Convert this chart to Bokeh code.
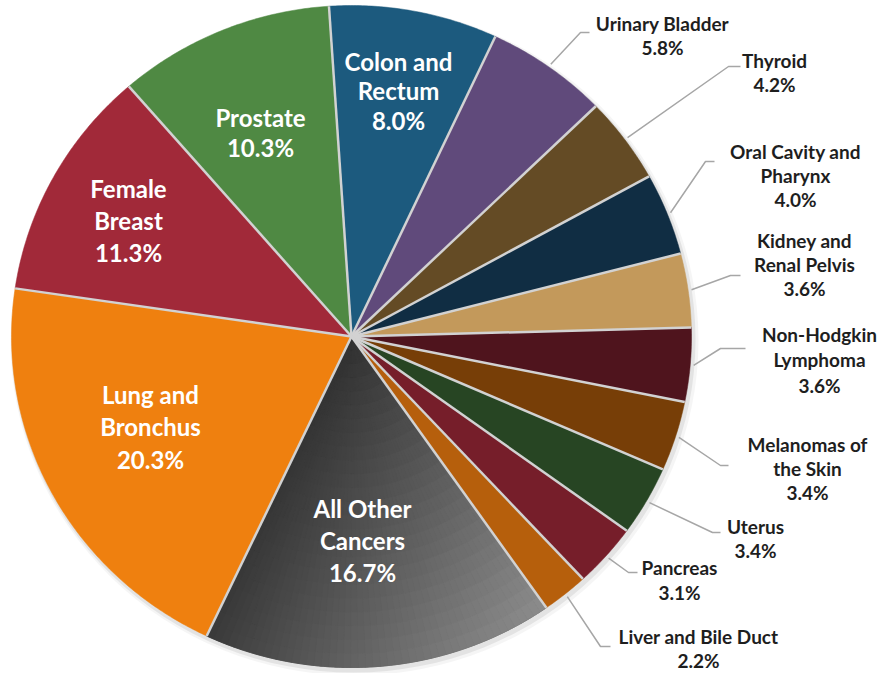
import numpy as np
from bokeh.plotting import figure
from bokeh.models import Range1d, ColumnDataSource
from bokeh.core.properties import value
from bokeh.embed import file_html
from bokeh.resources import INLINE

# ---------------- data ----------------
categories = ["Colon and Rectum", "Urinary Bladder", "Thyroid", "Oral Cavity and Pharynx",
              "Kidney and Renal Pelvis", "Non-Hodgkin Lymphoma", "Melanomas of the Skin",
              "Uterus", "Pancreas", "Liver and Bile Duct", "All Other Cancers",
              "Lung and Bronchus", "Female Breast", "Prostate"]
shares = [8.0, 5.8, 4.2, 4.0, 3.6, 3.6, 3.4, 3.4, 3.1, 2.2, 16.7, 20.3, 11.3, 10.3]
label_lines = [["Colon and", "Rectum"], ["Urinary Bladder"], ["Thyroid"],
               ["Oral Cavity and", "Pharynx"], ["Kidney and", "Renal Pelvis"],
               ["Non-Hodgkin", "Lymphoma"], ["Melanomas of", "the Skin"], ["Uterus"],
               ["Pancreas"], ["Liver and Bile Duct"], ["All Other", "Cancers"],
               ["Lung and", "Bronchus"], ["Female", "Breast"], ["Prostate"]]

# ---------------- styles / layout ----------------
colors = ["#1c5a7e", "#604a7b", "#644b25", "#102d43", "#c3995b", "#4f141d", "#773e07",
          "#274523", "#761e2a", "#b65f0c", "#555555", "#ef800f", "#a12939", "#4f8943"]
GRADIENT_SLICE = 10
CX, CY = 351.0, 336.0
RX, RY = 340.0, 331.0
START_DEG = -3.8

# inside labels: index -> (block centre x, block centre y, line gap)
inside = {0: (398, 90, 29.5), 10: (362, 540, 32.3), 11: (150, 426, 32.5),
          12: (128, 220, 32), 13: (260, 132, 30)}
# outside labels: index -> (text centre x, first line centre y, elbow x, elbow y, end x, gap)
outside = {
    1: (662, 22.5, 580, 32, 589, 24),
    2: (774, 59.5, 728, 66, 740, 24),
    3: (795, 150.5, 705, 161, 714, 24),
    4: (804, 239.5, 730, 275, 740, 24),
    5: (819, 333.5, 720, 348, 745, 25.5),
    6: (807, 443.5, 720, 465, 728, 24),
    7: (755, 525.5, 712, 532, 720, 24),
    8: (679, 566.5, 628, 572, 637, 25),
    9: (698, 636, 600, 646, 610, 24),
}

W, H = 882, 673
p = figure(width=W, height=H, x_range=Range1d(0, W), y_range=Range1d(H, 0),
           output_backend="svg", toolbar_location=None, min_border=0,
           x_axis_location=None, y_axis_location=None)
p.grid.visible = False
p.outline_line_color = None
p.background_fill_color = "white"
p.border_fill_color = "white"


def pt(theta_deg, frac=1.0):
    th = np.radians(theta_deg)
    return CX + frac * RX * np.sin(th), CY - frac * RY * np.cos(th)


total = float(sum(shares))
cum = np.concatenate([[0.0], np.cumsum(shares)])
bounds = START_DEG + 360.0 * cum / total
mids = (bounds[:-1] + bounds[1:]) / 2

# shadow
p.ellipse(x=[CX + 3, CX + 2], y=[CY + 4, CY + 3], width=[2 * RX + 8, 2 * RX + 4],
          height=[2 * RY + 8, 2 * RY + 4], fill_color="#808080", fill_alpha=[0.08, 0.15],
          line_color=None)

# slices
xs, ys = [], []
for i in range(len(shares)):
    n = max(6, int(abs(bounds[i + 1] - bounds[i]) * 2))
    th = np.linspace(bounds[i], bounds[i + 1], n)
    ax, ay = pt(th)
    xs.append(np.concatenate([[CX], ax]).tolist())
    ys.append(np.concatenate([[CY], ay]).tolist())
p.patches(xs=xs, ys=ys, fill_color=colors, line_color=colors, line_width=0.5)

# gradient rendering of the "All Other Cancers" slice
a0, a1 = bounds[GRADIENT_SLICE], bounds[GRADIENT_SLICE + 1]
NA, NR = 48, 24
angs = np.linspace(a0, a1, NA + 1)
rads = np.linspace(0, 1, NR + 1)
cx_, cy_, cc_ = [], [], []
for j in range(NA):
    for k in range(NR):
        th = np.linspace(angs[j], angs[j + 1], 4)
        ox, oy = pt(th, rads[k + 1])
        ix, iy = pt(th[::-1], rads[k])
        px = np.concatenate([ox, ix])
        py = np.concatenate([oy, iy])
        mx, my = px.mean(), py.mean()
        g = int(np.clip(-90.3 + 0.256 * mx + 0.15 * my, 45, 148))
        c = "#%02x%02x%02x" % (g, g, g)
        cx_.append(px.tolist()); cy_.append(py.tolist()); cc_.append(c)
p.patches(xs=cx_, ys=cy_, fill_color=cc_, line_color=cc_, line_width=0.8)

# slice separators
ex, ey = pt(bounds[:-1])
p.segment(x0=[CX] * len(ex), y0=[CY] * len(ey), x1=ex.tolist(), y1=ey.tolist(),
          line_color="#d2d2d2", line_width=2.5)

# leader lines
lx, ly = [], []
for i, (tx, ty, bx, by, hx, gap) in outside.items():
    sx, sy = pt(mids[i], 1.01)
    lx.append([float(sx), bx, hx])
    ly.append([float(sy), by, by])
p.multi_line(xs=lx, ys=ly, line_color="#a6a6a6", line_width=1.5)

# labels
in_src = dict(x=[], y=[], text=[])
for i, (bx, by, gap) in inside.items():
    lines = label_lines[i] + [f"{shares[i]:.1f}%"]
    n = len(lines)
    for k, t in enumerate(lines):
        in_src["x"].append(bx)
        in_src["y"].append(by + (k - (n - 1) / 2) * gap)
        in_src["text"].append(t)
p.text(x="x", y="y", text="text", source=ColumnDataSource(in_src), text_color="white",
       text_font=value("Lato"), text_font_style="bold", text_font_size=value("24px"),
       text_align="center", text_baseline="middle")

out_src = dict(x=[], y=[], text=[])
for i, (tx, ty, bx, by, hx, gap) in outside.items():
    lines = label_lines[i] + [f"{shares[i]:.1f}%"]
    for k, t in enumerate(lines):
        out_src["x"].append(tx)
        out_src["y"].append(ty + k * gap)
        out_src["text"].append(t)
p.text(x="x", y="y", text="text", source=ColumnDataSource(out_src), text_color="#1e1e1e",
       text_font=value("Lato"), text_font_style="bold", text_font_size=value("19px"),
       text_align="center", text_baseline="middle")

open("out.html", "w").write(file_html(p, INLINE))
